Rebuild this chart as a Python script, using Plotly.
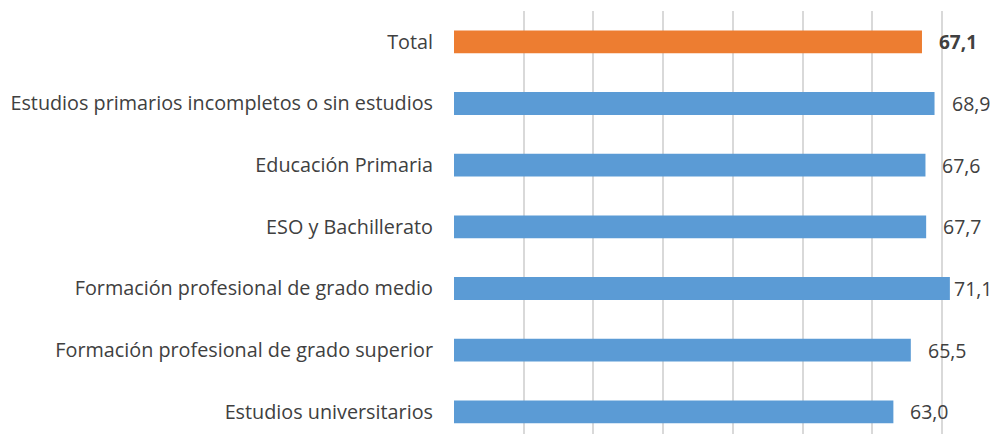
import plotly.graph_objects as go

categories = [
    "Total",
    "Estudios primarios incompletos o sin estudios",
    "Educación Primaria",
    "ESO y Bachillerato",
    "Formación profesional de grado medio",
    "Formación profesional de grado superior",
    "Estudios universitarios",
]
values = [67.1, 68.9, 67.6, 67.7, 71.1, 65.5, 63.0]
labels = ["67,1", "68,9", "67,6", "67,7", "71,1", "65,5", "63,0"]
colors = ["#ED7D31"] + ["#5B9BD5"] * 6

FONT = "Open Sans"
TXT = "#404040"

X_MAX = 78
PLOT_W = 544          # plot area width in px (990 - 446)
LABEL_W = 46          # approx. width of a value label box in px
ppu = PLOT_W / X_MAX

fig = go.Figure(go.Bar(
    x=values, y=categories, orientation="h",
    marker=dict(color=colors, line=dict(width=0)),
    width=0.37, hoverinfo="skip",
))

for i, (v, lab) in enumerate(zip(values, labels)):
    # keep the label inside the chart, as the original does for the longest bar
    shift = min(15, PLOT_W - v * ppu - LABEL_W)
    fig.add_annotation(
        x=v, y=categories[i], text=f"<b>{lab}</b>" if i == 0 else lab,
        xanchor="left", yanchor="middle", xshift=shift, showarrow=False,
        font=dict(family=FONT, size=19.5 if i else 19, color=TXT),
    )

fig.update_layout(
    width=990, height=426,
    margin=dict(l=446, r=0, t=3, b=0),
    paper_bgcolor="white", plot_bgcolor="white",
    showlegend=False,
    xaxis=dict(range=[0, X_MAX], tick0=0, dtick=10, showgrid=True,
               gridcolor="#D9D9D9", gridwidth=1.5, zeroline=False,
               showticklabels=False, showline=False, fixedrange=True),
    yaxis=dict(range=[6.36, -0.5], categoryorder="array", categoryarray=categories,
               showgrid=False, zeroline=False, showline=False, ticks="",
               ticklabelstandoff=20,
               tickfont=dict(family=FONT, size=19.8, color=TXT)),
)

fig.write_html("out.html")
